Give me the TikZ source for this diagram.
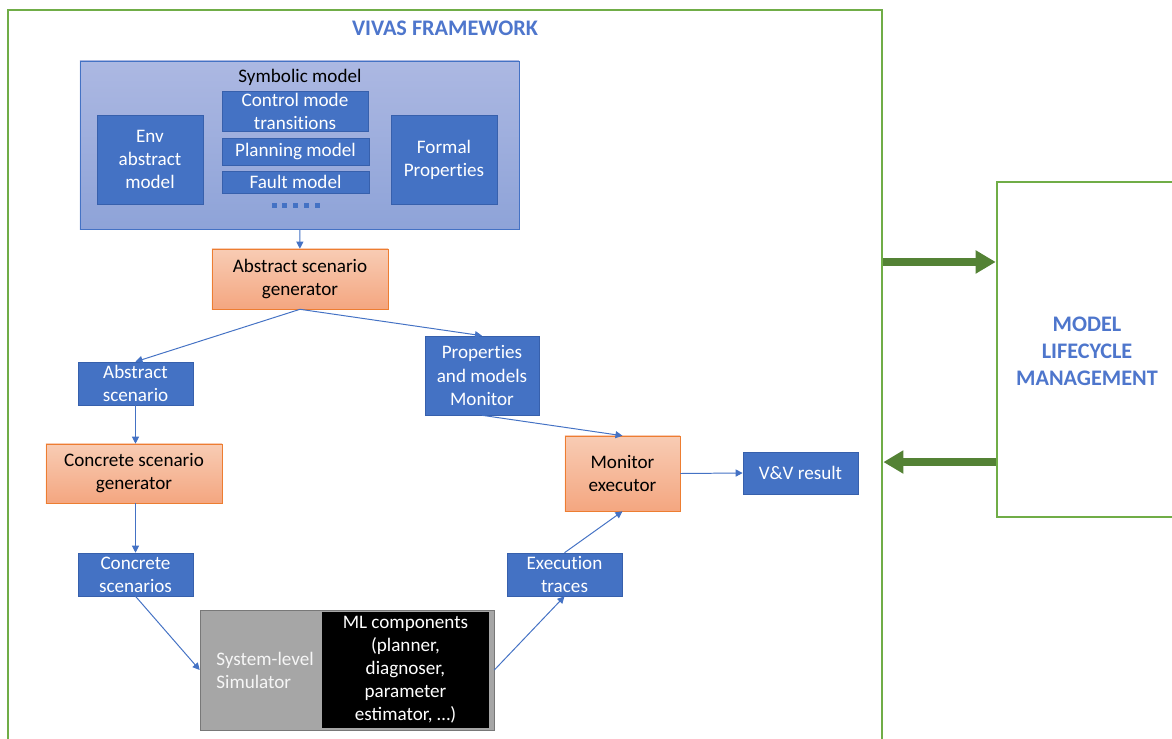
\documentclass[tikz,border=0pt]{standalone}
\usepackage{fontspec}
\setmainfont{Carlito}
\usetikzlibrary{arrows.meta}

\definecolor{boxblue}{RGB}{68,114,196}
\definecolor{boxedge}{RGB}{55,96,172}
\definecolor{symtop}{RGB}{172,184,226}
\definecolor{symbot}{RGB}{142,163,216}
\definecolor{orgtop}{RGB}{248,204,180}
\definecolor{orgbot}{RGB}{244,166,128}
\definecolor{orgedge}{RGB}{237,125,49}
\definecolor{framegreen}{RGB}{112,173,71}
\definecolor{arrowgreen}{RGB}{84,130,53}
\definecolor{simgray}{RGB}{166,166,166}
\definecolor{simedge}{RGB}{120,120,120}
\definecolor{titleblue}{RGB}{78,118,204}

\begin{document}
\begin{tikzpicture}[x=0.025cm, y=-0.025cm, font=\fontsize{13.6}{16.4}\selectfont]

% Define styles for different elements
\tikzstyle{bluebox} = [rectangle, draw=boxedge, fill=boxblue, text=white, align=center, inner sep=0pt]
\tikzstyle{generator} = [rectangle, draw=orgedge, top color=orgtop, bottom color=orgbot, text=black, align=center, inner sep=0pt]
\tikzstyle{greenframe} = [rectangle, draw=framegreen, line width=1.8pt, inner sep=0pt]
\tikzstyle{arrow} = [draw=boxblue, line width=0.7pt, -{Triangle[length=5pt,width=5pt]}]
\tikzstyle{bigarrow} = [draw=arrowgreen, line width=5.5pt, -{Triangle[length=0.5cm,width=0.55cm]}]
\tikzstyle{outlined} = [text=titleblue, font=\fontsize{15.8}{19.2}\selectfont\bfseries, align=center]

\useasboundingbox (0,0) rectangle (1172,738);
\clip (0,0) rectangle (1172,738);

% Frames
\node (frame) [greenframe, minimum width=21.85cm, minimum height=18.75cm] at (445,385) {};
\node (title) [outlined] at (445,28) {VIVAS FRAMEWORK};
\node (mlm) [greenframe, minimum width=4.65cm, minimum height=8.375cm] at (1090,349.5) {};
\node (mlmtext) [outlined] at (1087,351) {MODEL\\LIFECYCLE\\MANAGEMENT};

% Symbolic model
\node (sym) [rectangle, draw=boxblue, top color=symtop, bottom color=symbot, minimum width=10.975cm, minimum height=4.2cm] at (299.5,145) {};
\node (symlabel) at (300,77) {Symbolic model};
\node (env) [bluebox, minimum width=2.65cm, minimum height=2.225cm] at (150,159.5) {Env\\abstract\\model};
\node (ctrl) [bluebox, minimum width=3.65cm, minimum height=1cm] at (295,111) {Control mode\\transit\kern0pt ions};
\node (plan) [bluebox, minimum width=3.675cm, minimum height=0.675cm] at (295.5,151.5) {Planning model};
\node (fault) [bluebox, minimum width=3.675cm, minimum height=0.55cm] at (295.5,182) {Fault model};
\node (formal) [bluebox, minimum width=2.65cm, minimum height=2.225cm] at (444,159.5) {Formal\\Propert\kern0pt ies};
\foreach \i in {0,...,4}
  \fill[boxblue] (271.5+\i*10.8,203) rectangle ++(5,4.5);

% Draw the nodes
\node (asg) [generator, minimum width=4.4cm, minimum height=1.5cm] at (300,279) {Abstract scenario\\generator};
\node (abs) [bluebox, minimum width=2.875cm, minimum height=1.075cm] at (135.5,383.5) {Abstract\\scenario};
\node (props) [bluebox, minimum width=2.85cm, minimum height=1.975cm] at (482,375.5) {Propert\kern0pt ies\\and models\\Monitor};
\node (csg) [generator, minimum width=4.4cm, minimum height=1.475cm] at (134,473.5) {Concrete scenario\\generator};
\node (conc) [bluebox, minimum width=2.875cm, minimum height=1.075cm] at (135.5,574.5) {Concrete\\scenarios};
\node (sim) [rectangle, draw=simedge, fill=simgray, minimum width=7.35cm, minimum height=3cm] at (347,670) {};
\node (simlabel) [text=white!90!simgray, align=left] at (265,670) {System-level\\Simulator};
\node (ml) [rectangle, fill=black, text=white, align=center, minimum width=4.175cm, minimum height=2.8cm] at (405.5,670) {ML components\\(planner,\\diagnoser,\\parameter\\estimator, \dots)};
\node (exec) [bluebox, minimum width=2.875cm, minimum height=1.075cm] at (564.5,574.5) {Execut\kern0pt ion\\traces};
\node (mon) [generator, minimum width=2.875cm, minimum height=1.875cm] at (622.5,473.5) {Monitor\\executor};
\node (vv) [bluebox, minimum width=2.875cm, minimum height=1.05cm] at (800.5,473) {V\&V result};

% Draw the arrows
\draw [arrow] (sym) -- (asg);
\draw [arrow] (asg.south) -- (abs.north);
\draw [arrow] (asg.south) -- (props.north);
\draw [arrow] (abs.south) -- (abs.south |- csg.north);
\draw [arrow] (csg.south -| conc.north) -- (conc.north);
\draw [arrow] (conc.south) -- (sim.west);
\draw [arrow] (sim.east) -- (exec.south);
\draw [arrow] (exec.north) -- (mon.south);
\draw [arrow] (props.south) -- (mon.north);
\draw [arrow] (mon.east) -- (vv.west);

% Lifecycle arrows
\coordinate (toin) at ([yshift=2.1875cm]mlm.west);
\coordinate (toout) at ([yshift=-2.8125cm]mlm.west);
\draw [bigarrow] (toin -| frame.east) -- (toin);
\draw [bigarrow] (toout) -- (toout -| frame.east);
\end{tikzpicture}
\end{document}
